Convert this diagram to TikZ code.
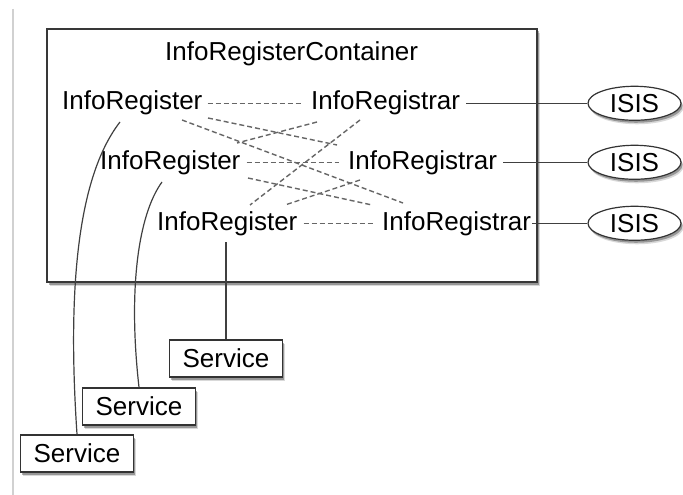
\documentclass[tikz,border=0pt]{standalone}
\usepackage{fontspec}
\setmainfont{Liberation Sans}
\usetikzlibrary{shapes.geometric,shadows,calc}
\tikzset{
  shad/.style={drop shadow={shadow xshift=1.5pt,shadow yshift=-2.5pt,opacity=.3,fill=black},
               drop shadow={shadow xshift=2.5pt,shadow yshift=-4pt,opacity=.15,fill=black}},
  lbl/.style={inner sep=0pt, anchor=base west, font=\fontsize{26}{30}\selectfont},
  container/.style={draw=black!78, line width=1.8pt, fill=white, minimum width=490pt,
                    minimum height=253pt, inner sep=0pt, shad},
  svc/.style={draw=black!80, line width=1.5pt, fill=white, minimum width=113pt,
              minimum height=37pt, inner sep=0pt, font=\fontsize{26}{30}\selectfont, shad},
  isis/.style={ellipse, draw=black!80, line width=1.2pt, fill=white, minimum width=93pt,
               minimum height=34pt, inner sep=0pt, font=\fontsize{26}{30}\selectfont, shad},
  conn/.style={draw=black!75, line width=1.2pt},
  dsh/.style={draw=black!60, line width=1.4pt, dash pattern=on 5pt off 3pt}
}
\begin{document}
\begin{tikzpicture}[x=1pt,y=-1pt]
\useasboundingbox (0,0) rectangle (683,495);
\fill[white] (0,0) rectangle (683,495);
\draw[color=black!18, line width=1.5pt] (13,9) -- (13,495);
% container
\node[container] (C) at (292,155.5) {};
\node[lbl] (T) at (165,60) {InfoRegisterContainer};
% registers and registrars
\node[lbl] (R1) at (62,110) {InfoRegister};
\node[lbl] (Q1) at (311,110) {InfoRegistrar};
\node[lbl] (R2) at (100,169) {InfoRegister};
\node[lbl] (Q2) at (348,169) {InfoRegistrar};
\node[lbl] (R3) at (157,230) {InfoRegister};
\node[lbl] (Q3) at (382,230) {InfoRegistrar};
% ISIS
\node[isis] (I1) at (634.5,0 |- Q1.east) {ISIS};
\node[isis] (I2) at (634.5,0 |- Q2.east) {ISIS};
\node[isis] (I3) at (634.5,0 |- Q3.east) {ISIS};
% services
\node[svc] (S1) at (226,358.5) {Service};
\node[svc] (S2) at (139,406.5) {Service};
\node[svc] (S3) at (77,453.5) {Service};
% horizontal dashed
\draw[dsh] ([xshift=5pt]R1.east) -- ([xshift=-8pt]Q1.west);
\draw[dsh] ([xshift=6pt]R2.east) -- ([xshift=-9pt]Q2.west);
\draw[dsh] ([xshift=6pt]R3.east) -- ([xshift=-8pt]Q3.west);
% diagonal dashed
\draw[dsh] ($(R1.base west)+(120,10)$) -- ($(Q3.base west)+(21,-27)$);
\draw[dsh] ($(R1.base west)+(146,8)$) -- ($(Q2.base west)+(-11,-24)$);
\draw[dsh] ($(Q1.base west)+(6,12)$) -- ($(R2.base west)+(137,-26)$);
\draw[dsh] ($(Q1.base west)+(49,10)$) -- ($(R3.base west)+(93,-25)$);
\draw[dsh] ($(R2.base west)+(148,9)$) -- ($(Q3.base west)+(-10,-25)$);
\draw[dsh] ($(Q2.base west)+(12,11)$) -- ($(R3.base west)+(128,-25)$);
% solid to ISIS
\draw[conn] ([xshift=6pt]Q1.east) -- (I1.west);
\draw[conn] ([xshift=6pt]Q2.east) -- (I2.west);
\draw[conn] ([xshift=1pt]Q3.east) -- (I3.west);
% to services
\draw[conn] ($(R1.base west)+(58,12)$) .. controls ($(R1.base west)+(13,70)$) and ($(R1.base west)+(6,190)$) .. (S3.north);
\draw[conn] ($(R2.base west)+(62,13)$) .. controls ($(R2.base west)+(38,46)$) and ($(R2.base west)+(28,121)$) .. (S2.north);
\draw[conn] ($(R3.base west)+(69,12)$) -- (S1.north);
\end{tikzpicture}
\end{document}
